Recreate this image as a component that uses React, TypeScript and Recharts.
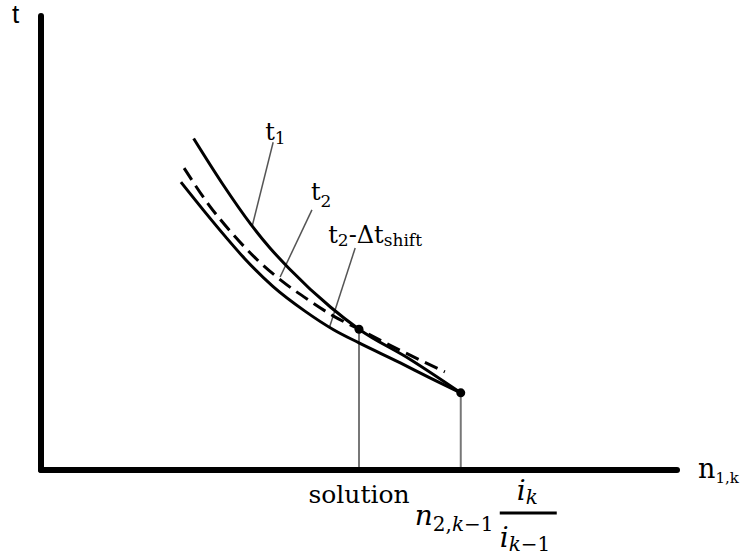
import React from 'react';
import { ComposedChart, Line, XAxis, YAxis, ReferenceLine, ReferenceDot } from 'recharts';

// Curves t(n): upper solid t1, dashed t2, lower solid t2 - Δt_shift
const T1_N = [24, 28.5, 33, 36, 39, 45.5, 50, 58, 66];
const T1_T = [73.0, 63.1, 54.1, 48.9, 44.4, 35.9, 31, 24.4, 17];

const T2_N = [22.5, 26.5, 30, 34, 38, 42, 46, 50, 57, 63.5];
const T2_T = [66.5, 58.2, 52.2, 46.3, 41.5, 37.5, 33.9, 31, 26.0, 21.6];

const SHIFT_N = [22, 25.5, 29, 32, 36.5, 41.5, 46, 50, 56.5, 61, 66];
const SHIFT_T = [63.4, 57.3, 51.4, 46.6, 40.4, 35.0, 30.9, 28.0, 23.6, 20.4, 17];

// marked points: the solution and the end of t1 / t2-Δt_shift
const N_SOLUTION = 50;
const T_SOLUTION = 31;
const N_END = 66;
const T_END = 17;

const X_TICKS = [N_SOLUTION, N_END];

// leader lines [from label, to curve]
const LEADER_T1 = [{ x: 36.5, y: 72.2 }, { x: 33.2, y: 53.7 }];
const LEADER_T2 = [{ x: 42.6, y: 57.3 }, { x: 37.6, y: 42.5 }];
const LEADER_SHIFT = [{ x: 49.4, y: 48.9 }, { x: 45.4, y: 31.6 }];

const SERIF = "'DejaVu Serif', serif";
const SANS = "'Liberation Sans', Arial, sans-serif";

const toPoints = (ns: number[], ts: number[]) => ns.map((n, i) => ({ n, t: ts[i] }));

const t1Data = toPoints(T1_N, T1_T);
const t2Data = toPoints(T2_N, T2_T);
const shiftData = toPoints(SHIFT_N, SHIFT_T);

const axisLine = { stroke: '#000', strokeWidth: 6, strokeLinecap: 'round' as const };
const serifText = { fontFamily: SERIF };

const BottomTick = (props: any) => {
  const { x, y, payload } = props;
  if (payload.value === N_SOLUTION) {
    return (
      <text x={x} y={y + 33} textAnchor="middle" style={serifText} fontSize={25} fill="#000">
        solution
      </text>
    );
  }
  return (
    <g style={serifText} fill="#000">
      <text x={x - 46} y={y + 55} fontSize={28}>
        <tspan fontStyle="italic">n</tspan>
        <tspan dy={6} fontSize={20}>2,</tspan>
        <tspan fontSize={20} fontStyle="italic">k</tspan>
        <tspan fontSize={20}>−1</tspan>
      </text>
      <line x1={x + 39} x2={x + 96} y1={y + 43} y2={y + 43} stroke="#000" strokeWidth={3} />
      <text x={x + 56} y={y + 30} fontSize={28}>
        <tspan fontStyle="italic">i</tspan>
        <tspan dy={4} fontSize={20} fontStyle="italic">k</tspan>
      </text>
      <text x={x + 39} y={y + 77} fontSize={28}>
        <tspan fontStyle="italic">i</tspan>
        <tspan dy={4} fontSize={20} fontStyle="italic">k</tspan>
        <tspan fontSize={20}>−1</tspan>
      </text>
    </g>
  );
};

const XTitle = ({ viewBox }: any) => (
  <text x={viewBox.x + viewBox.width + 21} y={viewBox.y + 8} style={serifText} fontSize={27} fill="#000">
    n<tspan dy={5} fontSize={15}>1,k</tspan>
  </text>
);

const YTitle = ({ viewBox }: any) => (
  <text x={viewBox.x + viewBox.width - 29} y={viewBox.y + 7} style={{ fontFamily: SANS }} fontSize={26} fill="#000">
    t
  </text>
);

const T1Label = ({ viewBox }: any) => (
  <text x={viewBox.x - 8} y={viewBox.y - 2} style={serifText} fontSize={24} fill="#000">
    t<tspan dy={4} fontSize={17}>1</tspan>
  </text>
);

const T2Label = ({ viewBox }: any) => (
  <text x={viewBox.x - 1} y={viewBox.y - 10} style={serifText} fontSize={24} fill="#000">
    t<tspan dy={7} fontSize={17}>2</tspan>
  </text>
);

const ShiftLabel = ({ viewBox }: any) => (
  <text x={viewBox.x - 27} y={viewBox.y - 5} style={serifText} fontSize={24} fill="#000">
    t<tspan dy={3} fontSize={17}>2</tspan>
    <tspan dy={-3}>-Δt</tspan>
    <tspan dy={3} fontSize={17}>shift</tspan>
  </text>
);

export default function App() {
  return (
    <div style={{ position: 'absolute', left: 0, top: 0, width: 743, height: 559, background: '#fff' }}>
      <ComposedChart width={743} height={559} margin={{ top: 16, right: 66, bottom: 88, left: 40 }}>
        <XAxis
          type="number"
          dataKey="n"
          domain={[0, 100]}
          ticks={X_TICKS}
          interval={0}
          tick={<BottomTick />}
          tickLine={false}
          tickSize={0}
          tickMargin={0}
          height={1}
          axisLine={axisLine}
          label={{ content: XTitle }}
        />
        <YAxis
          type="number"
          dataKey="t"
          domain={[0, 100]}
          tick={false}
          tickLine={false}
          width={1}
          axisLine={axisLine}
          label={{ content: YTitle }}
        />

        <ReferenceLine segment={[{ x: N_SOLUTION, y: 0 }, { x: N_SOLUTION, y: T_SOLUTION }]} stroke="#777" strokeWidth={2} />
        <ReferenceLine segment={[{ x: N_END, y: 0 }, { x: N_END, y: T_END }]} stroke="#777" strokeWidth={2} />

        <ReferenceLine segment={LEADER_T1} stroke="#555" strokeWidth={1.5} />
        <ReferenceLine segment={LEADER_T2} stroke="#555" strokeWidth={1.5} />
        <ReferenceLine segment={LEADER_SHIFT} stroke="#555" strokeWidth={1.5} />

        <Line data={shiftData} dataKey="t" type="monotone" stroke="#000" strokeWidth={3} dot={false} isAnimationActive={false} />
        <Line data={t2Data} dataKey="t" type="monotone" stroke="#000" strokeWidth={3} strokeDasharray="14 7" dot={false} isAnimationActive={false} />
        <Line data={t1Data} dataKey="t" type="monotone" stroke="#000" strokeWidth={3} dot={false} isAnimationActive={false} />

        <ReferenceDot x={N_SOLUTION} y={T_SOLUTION} r={4.5} fill="#000" stroke="none" />
        <ReferenceDot x={N_END} y={T_END} r={4.5} fill="#000" stroke="none" />

        <ReferenceDot x={LEADER_T1[0].x} y={LEADER_T1[0].y} r={0} stroke="none" fill="none" label={{ content: T1Label }} />
        <ReferenceDot x={LEADER_T2[0].x} y={LEADER_T2[0].y} r={0} stroke="none" fill="none" label={{ content: T2Label }} />
        <ReferenceDot x={LEADER_SHIFT[0].x} y={LEADER_SHIFT[0].y} r={0} stroke="none" fill="none" label={{ content: ShiftLabel }} />
      </ComposedChart>
    </div>
  );
}
